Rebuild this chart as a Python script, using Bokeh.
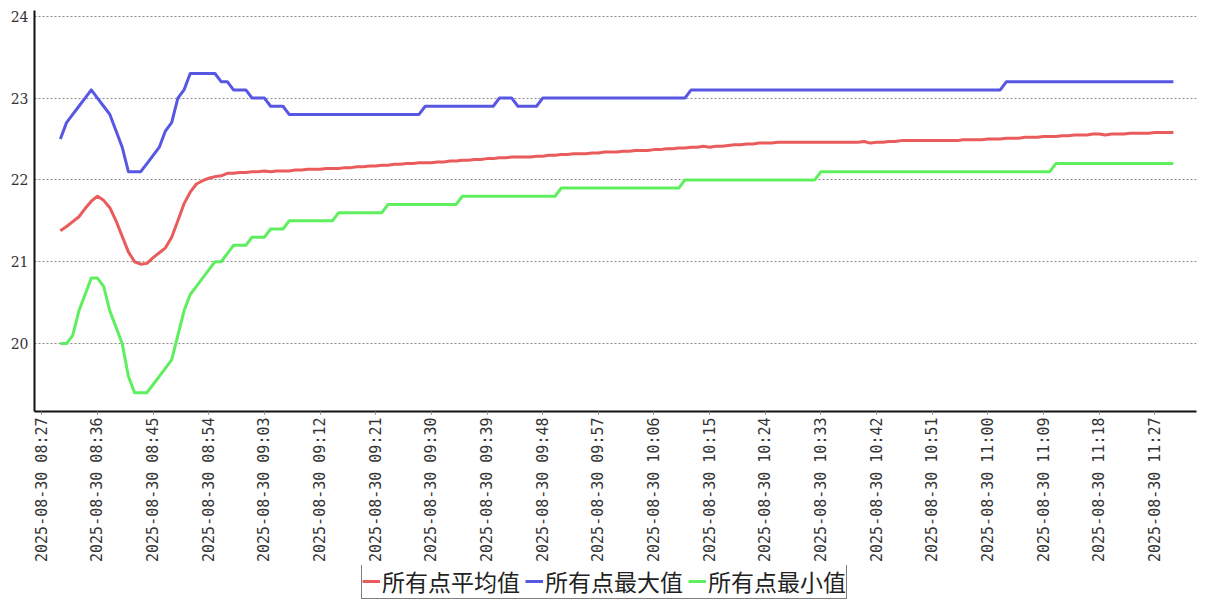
import math
import pandas as pd
from bokeh.plotting import figure
from bokeh.layouts import column
from bokeh.models import (Legend, LegendItem, FixedTicker, DatetimeTickFormatter,
                          Range1d, ColumnDataSource)
from bokeh.embed import file_html
from bokeh.resources import INLINE

# ---------------- data ----------------
start_time = "2025-08-30 08:30"
n_points = 181  # one reading per minute, 08:30 .. 11:30

series_names = ["所有点平均值", "所有点最大值", "所有点最小值"]

avg_values = [
    21.38, 21.43, 21.49, 21.55, 21.65, 21.74, 21.80, 21.75, 21.66, 21.50,
    21.31, 21.12, 21.00, 20.97, 20.98, 21.05, 21.11, 21.17, 21.30, 21.50,
    21.71, 21.85, 21.95, 21.99, 22.02, 22.04, 22.05, 22.08, 22.08, 22.09,
    22.09, 22.10, 22.10, 22.11, 22.10, 22.11, 22.11, 22.11, 22.12, 22.12,
    22.13, 22.13, 22.13, 22.14, 22.14, 22.14, 22.15, 22.15, 22.16, 22.16,
    22.17, 22.17, 22.18, 22.18, 22.19, 22.19, 22.20, 22.20, 22.21, 22.21,
    22.21, 22.22, 22.22, 22.23, 22.23, 22.24, 22.24, 22.25, 22.25, 22.26,
    22.26, 22.27, 22.27, 22.28, 22.28, 22.28, 22.28, 22.29, 22.29, 22.30,
    22.30, 22.31, 22.31, 22.32, 22.32, 22.32, 22.33, 22.33, 22.34, 22.34,
    22.34, 22.35, 22.35, 22.36, 22.36, 22.36, 22.37, 22.37, 22.38, 22.38,
    22.39, 22.39, 22.40, 22.40, 22.41, 22.40, 22.41, 22.41, 22.42, 22.43,
    22.43, 22.44, 22.44, 22.45, 22.45, 22.45, 22.46, 22.46, 22.46, 22.46,
    22.46, 22.46, 22.46, 22.46, 22.46, 22.46, 22.46, 22.46, 22.46, 22.46,
    22.47, 22.45, 22.46, 22.46, 22.47, 22.47, 22.48, 22.48, 22.48, 22.48,
    22.48, 22.48, 22.48, 22.48, 22.48, 22.48, 22.49, 22.49, 22.49, 22.49,
    22.50, 22.50, 22.50, 22.51, 22.51, 22.51, 22.52, 22.52, 22.52, 22.53,
    22.53, 22.53, 22.54, 22.54, 22.55, 22.55, 22.55, 22.56, 22.56, 22.55,
    22.56, 22.56, 22.56, 22.57, 22.57, 22.57, 22.57, 22.58, 22.58, 22.58,
    22.58,
]

max_values = [
    22.5, 22.7, 22.8, 22.9, 23.0, 23.1, 23.0, 22.9, 22.8, 22.6,
    22.4, 22.1, 22.1, 22.1, 22.2, 22.3, 22.4, 22.6, 22.7, 23.0,
    23.1, 23.3, 23.3, 23.3, 23.3, 23.3, 23.2, 23.2, 23.1, 23.1,
    23.1, 23.0, 23.0, 23.0, 22.9, 22.9, 22.9, 22.8, 22.8, 22.8,
    22.8, 22.8, 22.8, 22.8, 22.8, 22.8, 22.8, 22.8, 22.8, 22.8,
    22.8, 22.8, 22.8, 22.8, 22.8, 22.8, 22.8, 22.8, 22.8, 22.9,
    22.9, 22.9, 22.9, 22.9, 22.9, 22.9, 22.9, 22.9, 22.9, 22.9,
    22.9, 23.0, 23.0, 23.0, 22.9, 22.9, 22.9, 22.9, 23.0, 23.0,
    23.0, 23.0, 23.0, 23.0, 23.0, 23.0, 23.0, 23.0, 23.0, 23.0,
    23.0, 23.0, 23.0, 23.0, 23.0, 23.0, 23.0, 23.0, 23.0, 23.0,
    23.0, 23.0, 23.1, 23.1, 23.1, 23.1, 23.1, 23.1, 23.1, 23.1,
    23.1, 23.1, 23.1, 23.1, 23.1, 23.1, 23.1, 23.1, 23.1, 23.1,
    23.1, 23.1, 23.1, 23.1, 23.1, 23.1, 23.1, 23.1, 23.1, 23.1,
    23.1, 23.1, 23.1, 23.1, 23.1, 23.1, 23.1, 23.1, 23.1, 23.1,
    23.1, 23.1, 23.1, 23.1, 23.1, 23.1, 23.1, 23.1, 23.1, 23.1,
    23.1, 23.1, 23.1, 23.2, 23.2, 23.2, 23.2, 23.2, 23.2, 23.2,
    23.2, 23.2, 23.2, 23.2, 23.2, 23.2, 23.2, 23.2, 23.2, 23.2,
    23.2, 23.2, 23.2, 23.2, 23.2, 23.2, 23.2, 23.2, 23.2, 23.2,
    23.2,
]

min_values = [
    20.0, 20.0, 20.1, 20.4, 20.6, 20.8, 20.8, 20.7, 20.4, 20.2,
    20.0, 19.6, 19.4, 19.4, 19.4, 19.5, 19.6, 19.7, 19.8, 20.1,
    20.4, 20.6, 20.7, 20.8, 20.9, 21.0, 21.0, 21.1, 21.2, 21.2,
    21.2, 21.3, 21.3, 21.3, 21.4, 21.4, 21.4, 21.5, 21.5, 21.5,
    21.5, 21.5, 21.5, 21.5, 21.5, 21.6, 21.6, 21.6, 21.6, 21.6,
    21.6, 21.6, 21.6, 21.7, 21.7, 21.7, 21.7, 21.7, 21.7, 21.7,
    21.7, 21.7, 21.7, 21.7, 21.7, 21.8, 21.8, 21.8, 21.8, 21.8,
    21.8, 21.8, 21.8, 21.8, 21.8, 21.8, 21.8, 21.8, 21.8, 21.8,
    21.8, 21.9, 21.9, 21.9, 21.9, 21.9, 21.9, 21.9, 21.9, 21.9,
    21.9, 21.9, 21.9, 21.9, 21.9, 21.9, 21.9, 21.9, 21.9, 21.9,
    21.9, 22.0, 22.0, 22.0, 22.0, 22.0, 22.0, 22.0, 22.0, 22.0,
    22.0, 22.0, 22.0, 22.0, 22.0, 22.0, 22.0, 22.0, 22.0, 22.0,
    22.0, 22.0, 22.0, 22.1, 22.1, 22.1, 22.1, 22.1, 22.1, 22.1,
    22.1, 22.1, 22.1, 22.1, 22.1, 22.1, 22.1, 22.1, 22.1, 22.1,
    22.1, 22.1, 22.1, 22.1, 22.1, 22.1, 22.1, 22.1, 22.1, 22.1,
    22.1, 22.1, 22.1, 22.1, 22.1, 22.1, 22.1, 22.1, 22.1, 22.1,
    22.1, 22.2, 22.2, 22.2, 22.2, 22.2, 22.2, 22.2, 22.2, 22.2,
    22.2, 22.2, 22.2, 22.2, 22.2, 22.2, 22.2, 22.2, 22.2, 22.2,
    22.2,
]

tick_labels = [
    "2025-08-30 08:27", "2025-08-30 08:36", "2025-08-30 08:45", "2025-08-30 08:54",
    "2025-08-30 09:03", "2025-08-30 09:12", "2025-08-30 09:21", "2025-08-30 09:30",
    "2025-08-30 09:39", "2025-08-30 09:48", "2025-08-30 09:57", "2025-08-30 10:06",
    "2025-08-30 10:15", "2025-08-30 10:24", "2025-08-30 10:33", "2025-08-30 10:42",
    "2025-08-30 10:51", "2025-08-30 11:00", "2025-08-30 11:09", "2025-08-30 11:18",
    "2025-08-30 11:27",
]
y_ticks = [20, 21, 22, 23, 24]

colors = ["#ea5b5b", "#5757e3", "#5eef5e"]

# ---------------- main figure ----------------
times = pd.date_range(start_time, periods=n_points, freq="1min")
src = ColumnDataSource(dict(t=times, avg=avg_values, mx=max_values, mn=min_values))

x_start = pd.Timestamp("2025-08-30 08:25:49")
x_end = pd.Timestamp("2025-08-30 11:33:44")

p = figure(frame_width=1162, frame_height=401, x_axis_type="datetime",
           output_backend="svg", toolbar_location=None,
           x_range=Range1d(x_start, x_end), y_range=Range1d(19.17, 24.07),
           min_border_left=34, min_border_right=9, min_border_top=10,
           min_border_bottom=154)
p.outline_line_color = None
p.background_fill_color = "white"
p.border_fill_color = "white"

line_kw = dict(source=src, line_width=3, line_join="round")
p.line("t", "avg", line_color=colors[0], **line_kw)
p.line("t", "mx", line_color=colors[1], **line_kw)
p.line("t", "mn", line_color=colors[2], **line_kw)

# grid
p.xgrid.grid_line_color = None
p.ygrid.grid_line_color = "#8a8a8a"
p.ygrid.grid_line_dash = "2 2"
p.ygrid.grid_line_width = 1

# y axis
p.yaxis.ticker = FixedTicker(ticks=y_ticks)
p.yaxis.axis_line_width = 2
p.yaxis.axis_line_color = "#111111"
p.yaxis.major_tick_out = 0
p.yaxis.major_tick_in = 0
p.yaxis.minor_tick_line_color = None
p.yaxis.major_label_text_font = "DejaVu Serif"
p.yaxis.major_label_text_font_size = "14px"
p.yaxis.major_label_text_color = "#333333"
p.yaxis.major_label_standoff = 6

# x axis
tick_ms = [pd.Timestamp(s).value / 1e6 for s in tick_labels]
p.xaxis.ticker = FixedTicker(ticks=tick_ms)
fmt = "%Y-%m-%d %H:%M"
p.xaxis.formatter = DatetimeTickFormatter(
    microseconds=fmt, milliseconds=fmt, seconds=fmt, minsec=fmt, minutes=fmt,
    hourmin=fmt, hours=fmt, days=fmt, months=fmt, years=fmt)
p.xaxis.major_label_orientation = math.pi / 2
p.xaxis.axis_line_width = 2
p.xaxis.axis_line_color = "#111111"
p.xaxis.major_tick_out = 3
p.xaxis.major_tick_in = 0
p.xaxis.major_tick_line_color = "#888888"
p.xaxis.minor_tick_line_color = None
p.xaxis.major_label_text_font = "DejaVu Sans Mono"
p.xaxis.major_label_text_font_size = "15px"
p.xaxis.major_label_text_color = "#333333"
p.xaxis.major_label_standoff = 3

# ---------------- legend strip (below the axis labels) ----------------
lg = figure(width=1205, height=35, output_backend="svg", toolbar_location=None,
            x_range=Range1d(0, 1), y_range=Range1d(0, 1),
            x_axis_location=None, y_axis_location=None,
            min_border=0)
lg.outline_line_color = None
lg.grid.visible = False
lg.background_fill_color = "white"
lg.border_fill_color = "white"
# same series, drawn outside this strip's visible ranges; they only feed the legend swatches
la = lg.line("t", "avg", line_color=colors[0], **line_kw)
lb = lg.line("t", "mx", line_color=colors[1], **line_kw)
lc = lg.line("t", "mn", line_color=colors[2], **line_kw)

legend = Legend(items=[LegendItem(label=series_names[0], renderers=[la]),
                       LegendItem(label=series_names[1], renderers=[lb]),
                       LegendItem(label=series_names[2], renderers=[lc])],
                orientation="horizontal", location=(327, 1))
legend.label_text_font = "Noto Sans CJK SC"
legend.label_text_font_size = "23px"
legend.label_text_color = "#222222"
legend.label_height = 24
legend.glyph_width = 18
legend.glyph_height = 20
legend.label_standoff = 2
legend.spacing = 5
legend.padding = 0
legend.margin = 0
legend.border_line_color = "black"
legend.border_line_width = 1
legend.background_fill_color = "white"
legend.background_fill_alpha = 1
lg.add_layout(legend, "center")

layout = column(p, lg, spacing=0)
open("out.html", "w").write(file_html(layout, INLINE))
